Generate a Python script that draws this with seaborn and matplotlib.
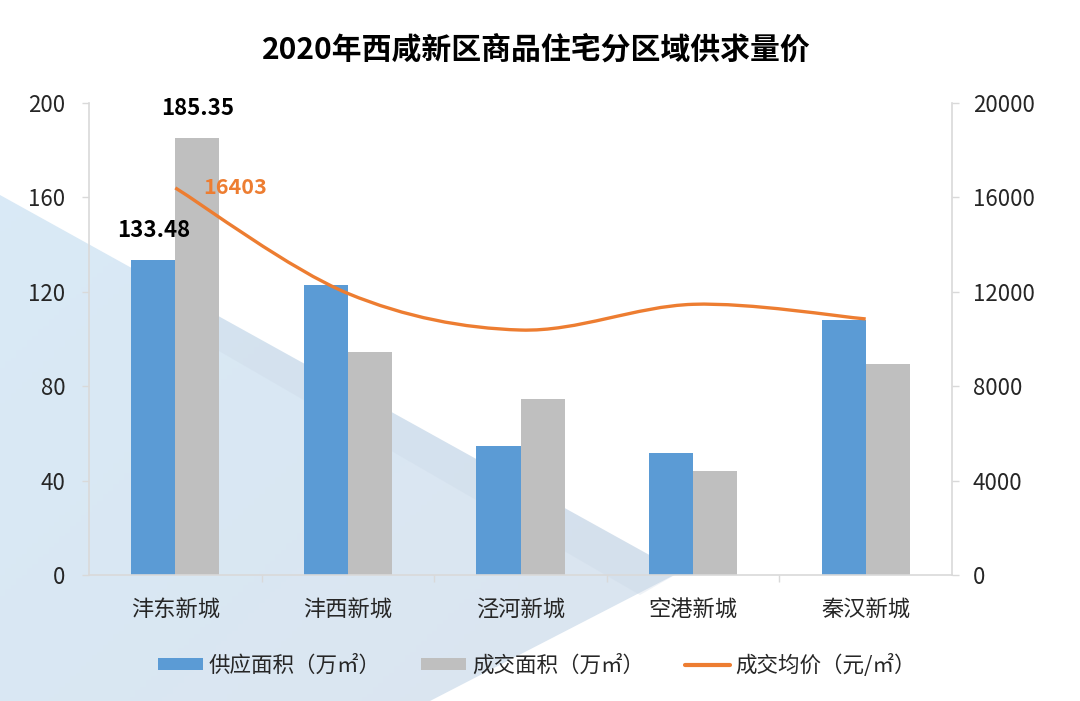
import numpy as np
import pandas as pd
import matplotlib
matplotlib.use("Agg")
import matplotlib.pyplot as plt
import seaborn as sns
from matplotlib.path import Path
from matplotlib.patches import PathPatch, Polygon, Patch
from matplotlib.lines import Line2D

sns.set_theme(style="white")
plt.rcParams['font.family'] = ['Noto Sans CJK SC', 'DejaVu Sans']

# data
regions = ['沣东新城', '沣西新城', '泾河新城', '空港新城', '秦汉新城']
supply = [133.48, 123.0, 54.6, 51.6, 108.0]      # 供应面积（万㎡）
deal = [185.35, 94.5, 74.6, 44.0, 89.5]          # 成交面积（万㎡）
price = [16403, 11930, 10380, 11470, 10850]      # 成交均价（元/㎡）
series_names = ['供应面积（万㎡）', '成交面积（万㎡）', '成交均价（元/㎡）']

blue, gray, orange = '#5b9bd5', '#bfbfbf', '#ed7d31'
axis_col = '#d9d9d9'
text_col = '#262626'

df = pd.DataFrame({
    '区域': regions * 2,
    '面积': supply + deal,
    '类型': [series_names[0]] * 5 + [series_names[1]] * 5,
})

fig = plt.figure(figsize=(10.8, 7.01), dpi=100)

# background decoration (light blue wedge on the left)
bg = fig.add_axes([0, 0, 1, 1], zorder=0)
bg.set_xlim(0, 1080)
bg.set_ylim(701, 0)
bg.axis('off')
gx, gy = np.meshgrid(np.linspace(0, 1, 200), np.linspace(0, 1, 200))
t = np.clip(0.6 * gx + 0.4 * gy, 0, 1)
c1 = np.array([0.85, 0.92, 0.97])
c2 = np.array([0.86, 0.89, 0.93])
img = c1[None, None, :] * (1 - t[..., None]) + c2[None, None, :] * t[..., None]
im = bg.imshow(img, extent=(0, 1080, 701, 0), aspect='auto')
wedge = Polygon([(0, 195), (680, 572), (430, 701), (0, 701)], closed=True,
                transform=bg.transData, facecolor='none', edgecolor='none')
bg.add_patch(wedge)
im.set_clip_path(wedge)
band = Polygon([(200, 306), (680, 572), (640, 595), (200, 340)], closed=True,
               facecolor='#c9d6e5', edgecolor='none', alpha=0.3)
bg.add_patch(band)

# main axes
ax = fig.add_axes([89 / 1080, 126 / 701, 863 / 1080, 472 / 701], zorder=1)
ax.set_facecolor('none')
sns.barplot(data=df, x='区域', y='面积', hue='类型', palette=[blue, gray],
            width=0.51, gap=0, saturation=1, legend=False, linewidth=0, ax=ax)
ax.set_xlim(-0.5, 4.5)
ax.set_ylim(0, 200)
ax.set_yticks(np.arange(0, 201, 40))
ax.set_xlabel('')
ax.set_ylabel('')
ax.set_xticks(np.arange(0.5, 4, 1), minor=True)
ax.tick_params(axis='x', which='major', length=0, pad=17, labelsize=16, labelcolor=text_col)
ax.tick_params(axis='x', which='minor', length=5, color=axis_col, direction='out', bottom=True)
ax.tick_params(axis='y', length=5, color=axis_col, width=1, direction='out', left=True,
               pad=12, labelsize=16, labelcolor=text_col)
for s in ['top', 'right']:
    ax.spines[s].set_visible(False)
for s in ['left', 'bottom']:
    ax.spines[s].set_color(axis_col)
    ax.spines[s].set_linewidth(1.2)

# data labels on the first pair
ax.annotate(f'{supply[0]:.2f}', xy=(-0.1275, supply[0]), xytext=(0, 21),
            textcoords='offset points', ha='center', va='center',
            fontsize=16, fontweight='bold', color='black')
ax.annotate(f'{deal[0]:.2f}', xy=(0.1275, deal[0]), xytext=(0, 21),
            textcoords='offset points', ha='center', va='center',
            fontsize=16, fontweight='bold', color='black')

# secondary axis: smoothed price line
ax2 = ax.twinx()
ax2.set_ylim(0, 20000)
ax2.set_yticks(np.arange(0, 20001, 4000))
for s in ['top', 'left', 'bottom']:
    ax2.spines[s].set_visible(False)
ax2.spines['right'].set_color(axis_col)
ax2.spines['right'].set_linewidth(1.2)
ax2.tick_params(axis='y', length=5, color=axis_col, width=1, direction='out', right=True,
                pad=10, labelsize=16, labelcolor=text_col)
ax2.grid(False)

pts = np.column_stack([np.arange(len(price)), np.array(price, dtype=float)])
verts = [tuple(pts[0])]
codes = [Path.MOVETO]
n = len(pts)
for i in range(n - 1):
    p0 = pts[max(i - 1, 0)]
    p1 = pts[i]
    p2 = pts[i + 1]
    p3 = pts[min(i + 2, n - 1)]
    verts += [tuple(p1 + (p2 - p0) / 6), tuple(p2 - (p3 - p1) / 6), tuple(p2)]
    codes += [Path.CURVE4] * 3
ax2.add_patch(PathPatch(Path(verts, codes), facecolor='none', edgecolor=orange,
                        lw=2.4, capstyle='butt', zorder=3))
ax2.annotate(f'{price[0]}', xy=(0, price[0]), xytext=(20, 0), textcoords='offset points',
             ha='left', va='center', fontsize=15.5, fontweight='bold', color=orange)

# title
fig.text(0.497, 1 - 50 / 701, '2020年西咸新区商品住宅分区域供求量价', ha='center', va='center',
         fontsize=21.5, fontweight='bold', color='black')

# legend
handles = [Patch(facecolor=blue, edgecolor='none'),
           Patch(facecolor=gray, edgecolor='none'),
           Line2D([0], [0], color=orange, lw=3)]
fig.legend(handles, series_names, loc='center', bbox_to_anchor=(0.497, 1 - 665 / 701),
           ncol=3, frameon=False, fontsize=15.5, handlelength=2.1, handleheight=0.5,
           handletextpad=0.25, columnspacing=1.9, labelcolor=text_col)

fig.savefig('out.png', dpi=100)
